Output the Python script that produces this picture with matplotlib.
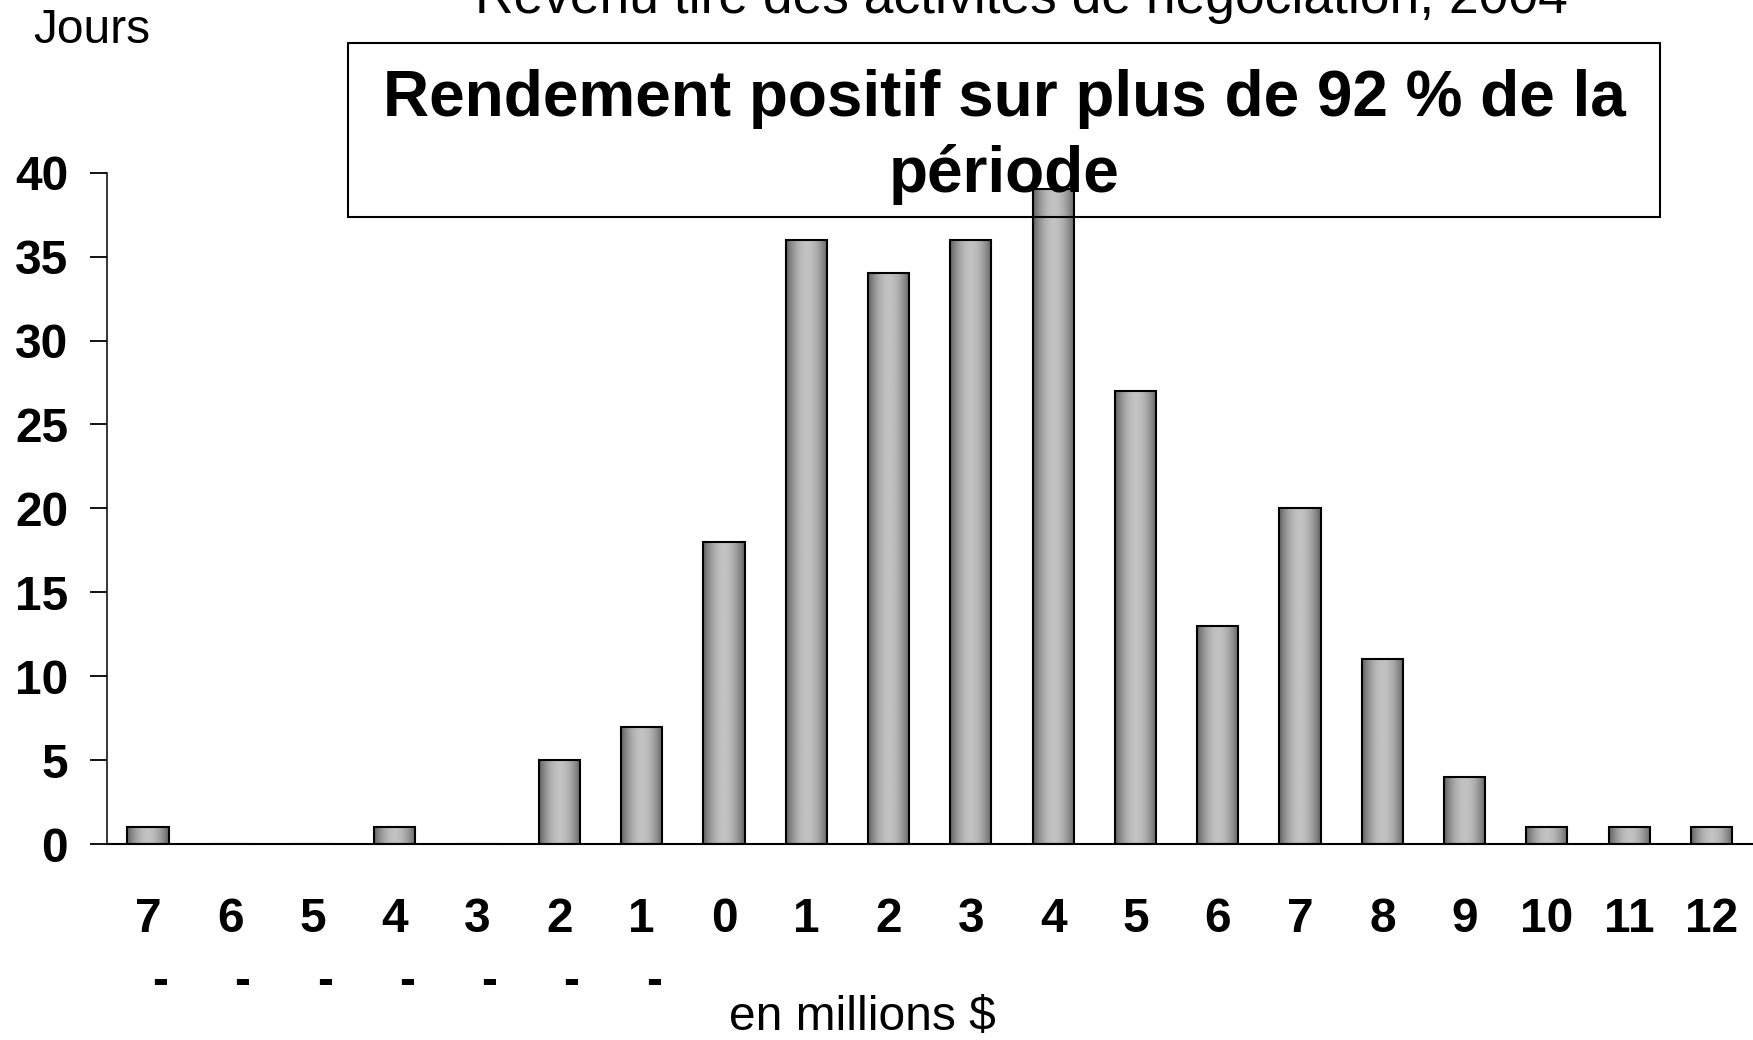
import numpy as np
import matplotlib
matplotlib.use("Agg")
import matplotlib.pyplot as plt
from matplotlib.patches import Rectangle
from matplotlib.transforms import blended_transform_factory

plt.rcParams['font.family'] = ['Liberation Sans', 'DejaVu Sans']

# ---- data ----
categories = ["-7", "-6", "-5", "-4", "-3", "-2", "-1", "0", "1", "2", "3",
              "4", "5", "6", "7", "8", "9", "10", "11", "12"]
jours = [1, 0, 0, 1, 0, 5, 7, 18, 36, 34, 36, 39, 27, 13, 20, 11, 4, 1, 1, 1]
yticks = [0, 5, 10, 15, 20, 25, 30, 35, 40]
title = "Revenu tiré des activités de négociation, 2004"
box_lines = ["Rendement positif sur plus de 92 % de la", "période"]
ylabel = "Jours"
xlabel = "en millions $"

W, H = 1753, 1040
fig = plt.figure(figsize=(W / 100, H / 100), dpi=100)
fig.patch.set_facecolor("white")

left, right = 106.9, 1752.6
y0, y40 = 844.0, 172.7
ax = fig.add_axes([left / W, (H - y0) / H, (right - left) / W, (y0 - y40) / H])

x = np.arange(len(categories))
bw = 0.5

# gradient fill for each bar
t = np.linspace(0, 1, 64)
dark, light = 0.38, 0.76
prof = dark + (light - dark) * np.sin(np.pi * t) ** 0.9
grad = np.tile(prof, (2, 1))
bars = ax.bar(x, jours, width=bw, facecolor="none", edgecolor="black",
              linewidth=1.5, zorder=3)
for b in bars:
    h = b.get_height()
    if h <= 0:
        continue
    ax.imshow(grad, cmap="gray", vmin=0, vmax=1, aspect="auto",
              extent=[b.get_x(), b.get_x() + b.get_width(), 0, h],
              zorder=2, interpolation="bilinear")

ax.set_xlim(-0.5, len(categories) - 0.5)
ax.set_ylim(0, 40)

for s in ["top", "right"]:
    ax.spines[s].set_visible(False)
ax.spines["left"].set_linewidth(1.1)
ax.spines["bottom"].set_linewidth(1.5)

ax.set_yticks(yticks)
ax.set_yticklabels([str(v) for v in yticks], fontsize=34.5, fontweight="bold")
ax.tick_params(axis="y", direction="out", length=12, width=1.3, pad=16)

ax.set_xticks(x)
ax.set_xticklabels([c.lstrip("-") for c in categories], fontsize=34.5,
                   fontweight="bold")
ax.tick_params(axis="x", length=0, pad=38)

# minus signs wrapped under the digits
trans = blended_transform_factory(ax.transData, ax.transAxes)
ydash = (y0 - 995) / (y0 - y40)
for xi, c in zip(x, categories):
    if c.startswith("-"):
        ax.text(xi + 0.146, ydash, "-", transform=trans, ha="center",
                va="baseline", fontsize=34.5, fontweight="bold", clip_on=False)

# texts
fig.text(1021 / W, 1 - 13 / H, title, ha="center", va="baseline", fontsize=38.4)
fig.text(33 / W, 1 - 43 / H, ylabel, ha="left", va="baseline", fontsize=34.5)
fig.text(862 / W, 1 - 1030 / H, xlabel, ha="center", va="baseline", fontsize=34.5)

# annotation box
bx0, bx1, by0, by1 = 348, 1660, 43, 217
fig.patches.append(Rectangle((bx0 / W, 1 - by1 / H), (bx1 - bx0) / W, (by1 - by0) / H,
                             transform=fig.transFigure, facecolor="none",
                             edgecolor="black", linewidth=1.5, zorder=10))
fig.text(1004 / W, 1 - 116 / H, box_lines[0], ha="center", va="baseline",
         fontsize=46, fontweight="bold", zorder=11)
fig.text(1004 / W, 1 - 192 / H, box_lines[1], ha="center", va="baseline",
         fontsize=46, fontweight="bold", zorder=11)

fig.savefig("out.png", dpi=100)
